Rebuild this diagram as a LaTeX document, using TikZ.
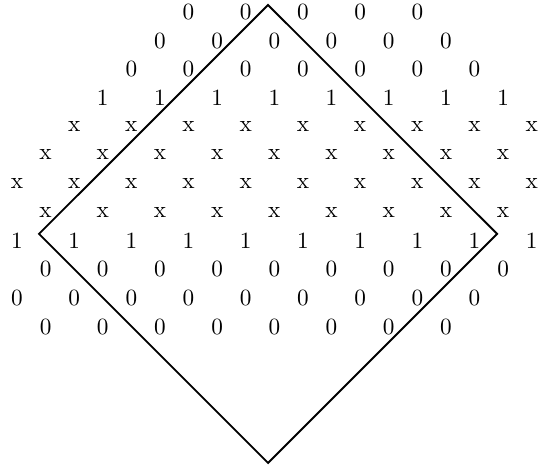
\documentclass[tikz,border=0pt]{standalone}
\usepackage{amsmath}
\usepackage{tikz}

\begin{document}
\begin{tikzpicture}[x=12.3pt,y=12.3pt]
  \useasboundingbox (-0.594,0.42) rectangle (18.29,-16.08);
  \foreach \k in {6,8,...,14} \node (r0-\k) at (\k,0) {0};
  \foreach \k in {5,7,...,15} \node (r1-\k) at (\k,-1) {0};
  \foreach \k in {4,6,...,16} \node (r2-\k) at (\k,-2) {0};
  \foreach \k in {3,5,...,17} \node (r3-\k) at (\k,-3) {1};
  \foreach \k in {2,4,...,18} \node (r4-\k) at (\k,-4) {x};
  \foreach \k in {1,3,...,17} \node (r5-\k) at (\k,-5) {x};
  \foreach \k in {0,2,...,18} \node (r6-\k) at (\k,-6) {x};
  \foreach \k in {1,3,...,17} \node (r7-\k) at (\k,-7) {x};
  \foreach \k in {0,2,...,18} \node (r8-\k) at (\k,-8) {1};
  \foreach \k in {1,3,...,17} \node (r9-\k) at (\k,-9) {0};
  \foreach \k in {0,2,...,16} \node (r10-\k) at (\k,-10) {0};
  \foreach \k in {1,3,...,15} \node (r11-\k) at (\k,-11) {0};

  \coordinate (top) at (8.78,0.245);
  \coordinate (left) at (0.77,-7.76);
  \coordinate (bottom) at (8.78,-15.77);
  \coordinate (right) at (16.79,-7.76);
  \draw[thick] (top) -- (left) -- (bottom) -- (right) -- cycle;
\end{tikzpicture}
\end{document}
